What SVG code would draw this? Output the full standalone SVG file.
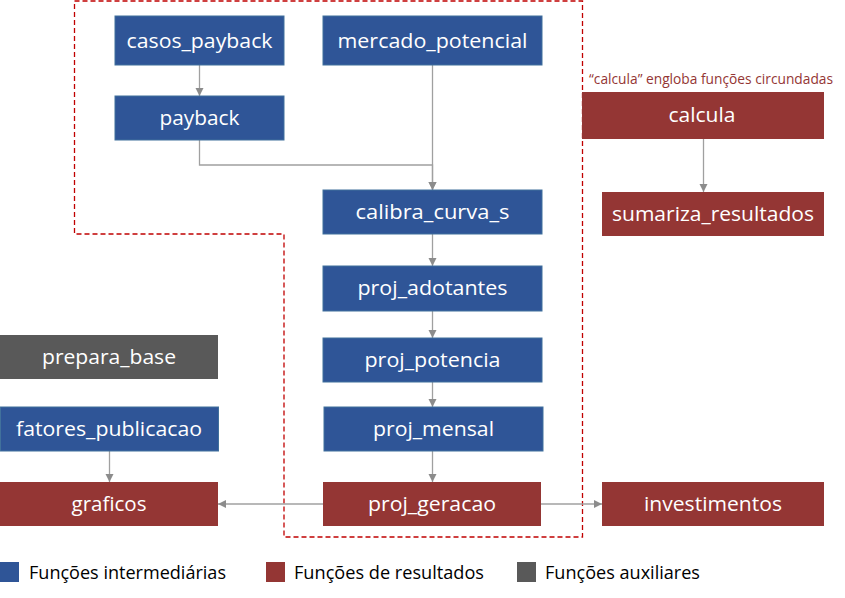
<svg xmlns="http://www.w3.org/2000/svg" width="845" height="598" viewBox="0 0 845 598">
<defs>
<style>
.b{fill:#2F5597;stroke:#41719C;stroke-width:1}
.r{fill:#943634}
.g{fill:#595959}
.t{font-family:"Open Sans","Liberation Sans",sans-serif;font-size:20px;fill:#fff;text-anchor:middle}
.c{fill:none;stroke:#A0A0A0;stroke-width:1.3}
.lg{font-family:"Open Sans","Liberation Sans",sans-serif;font-size:18px;fill:#000}
</style>
<marker id="a" markerUnits="userSpaceOnUse" markerWidth="10" markerHeight="10" refX="9" refY="5" orient="auto">
<path d="M1,1 L9,5 L1,9 z" fill="#8C8C8C"/>
</marker>
</defs>
<rect width="845" height="598" fill="#fff"/>
<path id="calcula-scope" d="M74.5,1 H582.5 V537 H284 V234 H74.5 Z" fill="none" stroke="#C00000" stroke-width="1.3" stroke-dasharray="5,3"/>
<text x="589" y="84" font-family="'Open Sans','Liberation Sans',sans-serif" font-size="14" fill="#943634" textLength="244" lengthAdjust="spacingAndGlyphs">“calcula” engloba funções circundadas</text>
<g id="connectors">
<path class="c" d="M199.5,65 V96" marker-end="url(#a)"/>
<path class="c" d="M199.5,140 V165 H432.5 V190" marker-end="url(#a)"/>
<path class="c" d="M432.5,65 V190" marker-end="url(#a)"/>
<path class="c" d="M432.5,234 V266" marker-end="url(#a)"/>
<path class="c" d="M432.5,311 V338" marker-end="url(#a)"/>
<path class="c" d="M432.5,382 V407" marker-end="url(#a)"/>
<path class="c" d="M432.5,451 V482" marker-end="url(#a)"/>
<path class="c" d="M323,504 H218" marker-end="url(#a)"/>
<path class="c" d="M541,504 H602" marker-end="url(#a)"/>
<path class="c" d="M109.5,451 V482" marker-end="url(#a)"/>
<path class="c" d="M703.5,139 V192" marker-end="url(#a)"/>
</g>
<g id="casos_payback"><rect class="b" x="115" y="16" width="169" height="49"/><text class="t" x="199.5" y="47.5" textLength="146" lengthAdjust="spacingAndGlyphs">casos_payback</text></g>
<g id="mercado_potencial"><rect class="b" x="323" y="16" width="219" height="49"/><text class="t" x="432.5" y="47.5" textLength="190" lengthAdjust="spacingAndGlyphs">mercado_potencial</text></g>
<g id="payback"><rect class="b" x="115" y="96" width="169" height="44"/><text class="t" x="199.5" y="125" textLength="80" lengthAdjust="spacingAndGlyphs">payback</text></g>
<g id="calibra_curva_s"><rect class="b" x="323" y="190" width="219" height="44"/><text class="t" x="432.5" y="219" textLength="154" lengthAdjust="spacingAndGlyphs">calibra_curva_s</text></g>
<g id="proj_adotantes"><rect class="b" x="323" y="266" width="219" height="45"/><text class="t" x="432.5" y="295" textLength="150" lengthAdjust="spacingAndGlyphs">proj_adotantes</text></g>
<g id="proj_potencia"><rect class="b" x="323" y="338" width="219" height="44"/><text class="t" x="432.5" y="367" textLength="136" lengthAdjust="spacingAndGlyphs">proj_potencia</text></g>
<g id="proj_mensal"><rect class="b" x="324" y="407" width="219" height="44"/><text class="t" x="433.5" y="436" textLength="121" lengthAdjust="spacingAndGlyphs">proj_mensal</text></g>
<g id="proj_geracao"><rect class="r" x="323" y="482" width="218" height="44"/><text class="t" x="432" y="511" textLength="128" lengthAdjust="spacingAndGlyphs">proj_geracao</text></g>
<g id="investimentos"><rect class="r" x="602" y="482" width="222" height="44"/><text class="t" x="713" y="511" textLength="138" lengthAdjust="spacingAndGlyphs">investimentos</text></g>
<g id="prepara_base"><rect class="g" x="0" y="335" width="218" height="44"/><text class="t" x="109" y="364" textLength="134" lengthAdjust="spacingAndGlyphs">prepara_base</text></g>
<g id="fatores_publicacao"><rect class="b" x="0.5" y="407" width="218" height="44"/><text class="t" x="109" y="436" textLength="186" lengthAdjust="spacingAndGlyphs">fatores_publicacao</text></g>
<g id="graficos"><rect class="r" x="0" y="482" width="218" height="44"/><text class="t" x="109" y="511" textLength="75" lengthAdjust="spacingAndGlyphs">graficos</text></g>
<g id="calcula"><rect class="r" x="582" y="92" width="242" height="47"/><text class="t" x="702" y="122" textLength="67" lengthAdjust="spacingAndGlyphs">calcula</text></g>
<g id="sumariza_resultados"><rect class="r" x="602" y="192" width="222" height="44"/><text class="t" x="713" y="221" textLength="202" lengthAdjust="spacingAndGlyphs">sumariza_resultados</text></g>
<g id="legend">
<rect x="0" y="562" width="19" height="20" fill="#2F5597"/>
<text class="lg" x="29" y="579" textLength="197" lengthAdjust="spacingAndGlyphs">Funções intermediárias</text>
<rect x="266" y="562" width="19" height="20" fill="#943634"/>
<text class="lg" x="294" y="579" textLength="190" lengthAdjust="spacingAndGlyphs">Funções de resultados</text>
<rect x="517" y="562" width="19" height="20" fill="#595959"/>
<text class="lg" x="545" y="579" textLength="155" lengthAdjust="spacingAndGlyphs">Funções auxiliares</text>
</g>
</svg>
